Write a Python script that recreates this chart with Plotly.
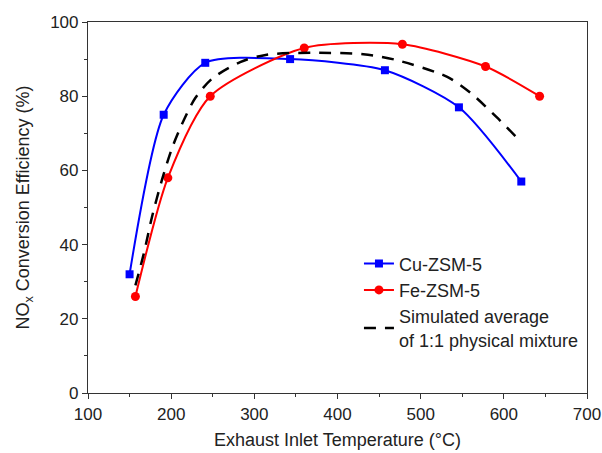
import plotly.graph_objects as go

# Measured NOx conversion vs. exhaust inlet temperature
cu_temp = [150, 191, 241, 343, 457, 546, 621]
cu_eff = [32, 75, 89, 90, 87, 77, 57]

fe_temp = [157, 196, 247, 360, 478, 578, 643]
fe_eff = [26, 58, 80, 93, 94, 88, 80]

# Simulated average of a 1:1 physical mixture
mix_temp = [157, 167, 177, 189, 201, 213, 229, 249, 283, 315, 371, 431, 468, 532, 561, 591, 615]
mix_eff = [29, 37.5, 47.5, 57.5, 66, 72.5, 79.5, 84.7, 89.2, 91.2, 91.7, 91.3, 89.9, 85.2, 80.7, 74.4, 69]

FONT = "Liberation Sans, Arial, sans-serif"

fig = go.Figure()
fig.add_trace(go.Scatter(
    x=cu_temp, y=cu_eff, name="Cu-ZSM-5", mode="lines+markers",
    line=dict(color="#0000ff", width=2, shape="spline", smoothing=0.7),
    marker=dict(symbol="square", size=8, color="#0000ff"),
))
fig.add_trace(go.Scatter(
    x=fe_temp, y=fe_eff, name="Fe-ZSM-5", mode="lines+markers",
    line=dict(color="#ff0000", width=2, shape="spline", smoothing=0.7),
    marker=dict(symbol="circle", size=9, color="#ff0000"),
))
fig.add_trace(go.Scatter(
    x=mix_temp, y=mix_eff, name="Simulated average<br>of 1:1 physical mixture",
    mode="lines",
    line=dict(color="#000000", width=2.5, dash="12px,9px", shape="spline", smoothing=0.8),
))

axis_common = dict(
    showgrid=False, zeroline=False, showline=True, linecolor="#333333", linewidth=1.2,
    mirror=True, ticks="outside", ticklen=5, tickwidth=1.2, tickcolor="#333333",
    tickfont=dict(family=FONT, size=17, color="#222222"), automargin=False,
)

fig.update_xaxes(
    range=[100, 700], dtick=100, tick0=100,
    minor=dict(ticks="outside", ticklen=3, tickwidth=1.2, tickcolor="#333333", dtick=50, tick0=100),
    title=dict(text="Exhaust Inlet Temperature (°C)", font=dict(family=FONT, size=18, color="#222222"), standoff=10),
    **axis_common,
)
fig.update_yaxes(
    range=[0, 100], dtick=20, tick0=0,
    minor=dict(ticks="outside", ticklen=3, tickwidth=1.2, tickcolor="#333333", dtick=10, tick0=0),
    title=dict(text="NO<sub>x</sub> Conversion Efficiency (%)", font=dict(family=FONT, size=18, color="#222222"), standoff=15),
    **axis_common,
)

fig.update_layout(
    width=602, height=453,
    margin=dict(l=88, r=15, t=22, b=60),
    paper_bgcolor="white", plot_bgcolor="white",
    showlegend=True,
    legend=dict(
        x=0.543, y=0.398, xanchor="left", yanchor="top",
        bgcolor="rgba(0,0,0,0)", borderwidth=0,
        font=dict(family=FONT, size=18, color="#222222"),
        tracegroupgap=0, itemwidth=30,
    ),
)

fig.write_html("out.html")
